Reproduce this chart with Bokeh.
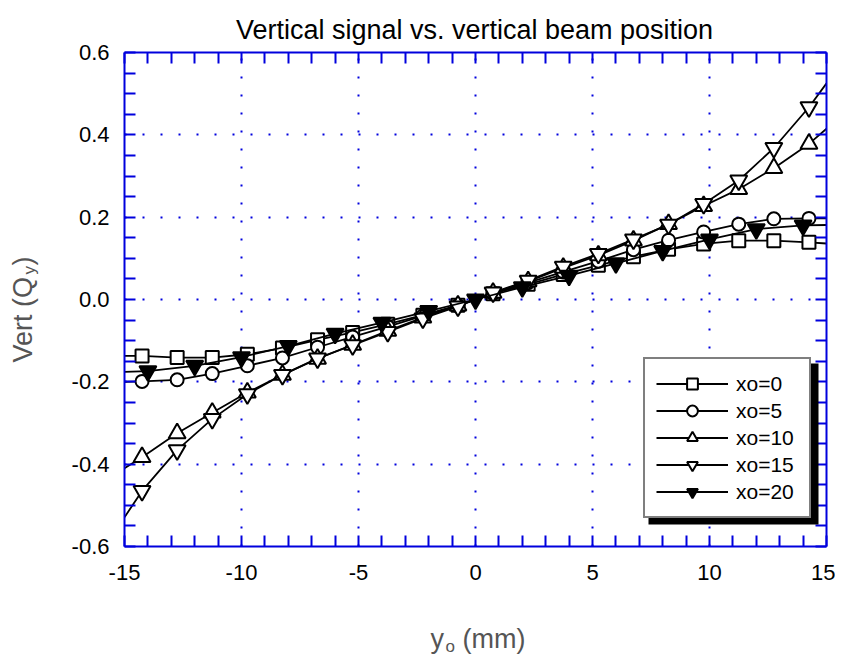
from bokeh.plotting import figure
from bokeh.models import (Range1d, LinearAxis, FixedTicker, NumeralTickFormatter,
                          Grid, Legend, LegendItem, Label, BoxAnnotation)
from bokeh.embed import file_html
from bokeh.resources import INLINE

# ---------------- data ----------------
y_pos = [-14.25, -12.75, -11.25, -9.75, -8.25, -6.75, -5.25, -3.75, -2.25, -0.75,
         0.75, 2.25, 3.75, 5.25, 6.75, 8.25, 9.75, 11.25, 12.75, 14.25]
xo0 = [-0.137, -0.141, -0.141, -0.133, -0.118, -0.098, -0.080, -0.060, -0.038, -0.014,
       0.014, 0.037, 0.061, 0.083, 0.104, 0.122, 0.135, 0.143, 0.143, 0.139]
xo5 = [-0.199, -0.195, -0.180, -0.161, -0.142, -0.116, -0.091, -0.066, -0.040, -0.015,
       0.015, 0.041, 0.067, 0.093, 0.121, 0.144, 0.164, 0.183, 0.196, 0.197]
xo10 = [-0.383, -0.325, -0.275, -0.226, -0.183, -0.144, -0.110, -0.076, -0.044, -0.015,
        0.016, 0.044, 0.077, 0.107, 0.143, 0.183, 0.227, 0.268, 0.319, 0.378]
xo15 = [-0.465, -0.366, -0.290, -0.230, -0.183, -0.143, -0.111, -0.079, -0.046, -0.017,
        0.017, 0.046, 0.080, 0.111, 0.146, 0.182, 0.232, 0.289, 0.368, 0.467]
y_pos20 = [-14, -12, -10, -8, -6, -4, -2, 0, 2, 4, 6, 8, 10, 12, 14]
xo20 = [-0.174, -0.161, -0.140, -0.113, -0.083, -0.056, -0.028, 0.0,
        0.030, 0.058, 0.088, 0.118, 0.146, 0.171, 0.180]

# fitted-curve values at the plot edges (y = -15 mm and +15 mm)
edge_x = [-15, 15]
xo0_edge = [-0.137, 0.136]
xo5_edge = [-0.200, 0.197]
xo10_edge = [-0.410, 0.415]
xo15_edge = [-0.529, 0.525]
xo20_edge = [-0.176, 0.181]

labels = ["xo=0", "xo=5", "xo=10", "xo=15", "xo=20"]

x_major = [-15, -10, -5, 0, 5, 10, 15]
y_major = [-0.6, -0.4, -0.2, 0.0, 0.2, 0.4, 0.6]
x_minor = [v for v in range(-15, 16) if v % 5 != 0]
y_minor = [round(-0.6 + 0.05 * i, 2) for i in range(25) if i % 4 != 0]

# ---------------- figure ----------------
FONT = "Liberation Sans"
BLUE = "#0000DD"
W, H = 835, 660
FL, FR, FT, FB = 124, 826, 52, 546

p = figure(width=W, height=H, x_range=Range1d(-15, 15), y_range=Range1d(-0.6, 0.6),
           x_axis_type=None, y_axis_type=None, output_backend="svg", toolbar_location=None,
           min_border_left=FL, min_border_right=W - FR, min_border_top=FT,
           min_border_bottom=H - FB)
p.outline_line_color = None
p.background_fill_color = "white"
p.border_fill_color = "white"

xt = FixedTicker(ticks=x_major, minor_ticks=x_minor)
yt = FixedTicker(ticks=y_major, minor_ticks=y_minor)


def make_axis(ticker, fmt, show_labels, standoff):
    ax = LinearAxis(ticker=ticker, formatter=NumeralTickFormatter(format=fmt))
    ax.axis_line_color = BLUE
    ax.axis_line_width = 2
    ax.major_tick_line_color = BLUE
    ax.major_tick_line_width = 2
    ax.minor_tick_line_color = BLUE
    ax.minor_tick_line_width = 2
    ax.major_tick_in = 11
    ax.major_tick_out = 0
    ax.minor_tick_in = 11
    ax.minor_tick_out = 0
    if show_labels:
        ax.major_label_text_font = FONT
        ax.major_label_text_font_size = "22px"
        ax.major_label_text_color = "black"
        ax.major_label_standoff = standoff
    else:
        ax.major_label_text_font_size = "0px"
        ax.major_label_text_color = None
        ax.major_label_standoff = 0
    return ax


p.add_layout(make_axis(xt, "0", True, 18), "below")
p.add_layout(make_axis(yt, "0.0", True, 15), "left")
p.add_layout(make_axis(xt, "0", False, 0), "above")
p.add_layout(make_axis(yt, "0.0", False, 0), "right")

for dim, tk in ((0, xt), (1, yt)):
    g = Grid(dimension=dim, ticker=tk)
    g.grid_line_color = BLUE
    g.grid_line_width = 2
    g.grid_line_dash = "2 16"
    p.add_layout(g)

# ---------------- series ----------------
series = [
    (y_pos, xo0, xo0_edge, "square", 13, "white"),
    (y_pos, xo5, xo5_edge, "circle", 13, "white"),
    (y_pos, xo10, xo10_edge, "triangle", 17, "white"),
    (y_pos, xo15, xo15_edge, "inverted_triangle", 17, "white"),
    (y_pos20, xo20, xo20_edge, "inverted_triangle", 17, "black"),
]

items = []
for (xs, ys, edge, marker, size, fill), lab in zip(series, labels):
    lx = [edge_x[0]] + list(xs) + [edge_x[1]]
    ly = [edge[0]] + list(ys) + [edge[1]]
    lr = p.line(lx, ly, line_color="black", line_width=1.8)
    sr = p.scatter(xs, ys, marker=marker, size=size, fill_color=fill,
                   line_color="black", line_width=2)
    items.append(LegendItem(label=lab, renderers=[lr, sr]))


# ---------------- page-pixel -> data helpers for placed texts ----------------
def sx(px):
    return (px - FL) / (FR - FL) * 30 - 15


def sy(py):
    return 0.6 - (py - FT) / (FB - FT) * 1.2


# legend shadow
p.add_layout(BoxAnnotation(left=sx(648), right=sx(818), top=sy(363), bottom=sy(524),
                           fill_color="black", fill_alpha=1.0, line_color=None))

legend = Legend(items=items, location=(519, 28), margin=0,
                border_line_color="black", border_line_width=2,
                background_fill_color="white", background_fill_alpha=1.0,
                padding=11, spacing=0, glyph_width=72, glyph_height=27,
                label_height=27, label_width=62, label_standoff=8,
                label_text_font=FONT, label_text_font_size="21px",
                label_text_color="black")
p.add_layout(legend)

# ---------------- texts (side panels, so they are not clipped to the frame) ----------------
AXC = "#555555"
ANG = 1.5707963267948966


def txt(text, px, py, size, color, side, align="left", angle=0.0):
    p.add_layout(Label(x=sx(px), y=sy(py), text=text, text_font=FONT,
                       text_font_size=size, text_color=color, text_align=align,
                       text_baseline="alphabetic", angle=angle), side)


# title
txt("Vertical signal vs. vertical beam position", 474, 29, "27px", "black", "above", "center")
# x-axis title  y_o (mm)
txt("y", 430, 638, "27px", AXC, "left")
txt("o", 445, 646, "17px", AXC, "below")
txt("(mm)", 462, 638, "27px", AXC, "below")
# y-axis title  Vert (Q_y)
txt("Vert (Q", 22, 362, "27px", AXC, "left", angle=ANG)
txt("y", 29, 274, "17px", AXC, "above", angle=ANG)
txt(")", 22, 265, "27px", AXC, "above", angle=ANG)

open("out.html", "w").write(file_html(p, INLINE))
